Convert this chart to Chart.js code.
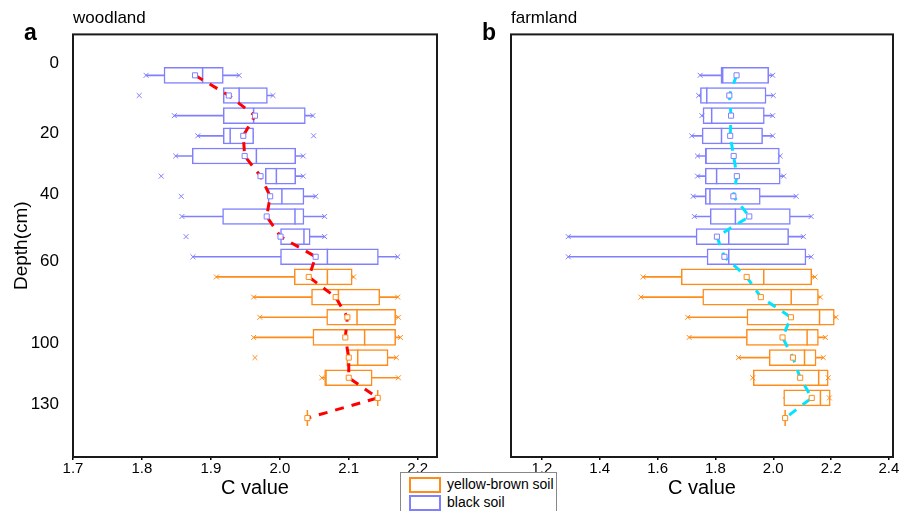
<!DOCTYPE html>
<html>
<head>
<meta charset="utf-8">
<script src="https://cdn.jsdelivr.net/npm/chart.js@4.4.1/dist/chart.umd.min.js"></script>
<style>
  body { margin: 0; background: #fff; font-family: "Liberation Sans", Arial, sans-serif; }
  #wrap { position: relative; width: 905px; height: 511px; overflow: hidden; }
  canvas { position: absolute; top: 0; }
  #ca { left: 0; }
  #cb { left: 460px; }
  .tag { position: absolute; font-weight: bold; font-size: 23px; line-height: 1; }
  #legend { position: absolute; left: 400px; top: 472px; width: 155px; height: 50px; border: 1px solid #888;
            background: #fff; font-size: 14px; z-index: 2; }
  #legend .txt { position: absolute; left: 46px; }
  #legend .key { position: absolute; left: 8px; width: 28px; height: 12px; }
</style>
</head>
<body>
<div id="wrap">
  <canvas id="ca" width="460" height="511"></canvas>
  <canvas id="cb" width="445" height="511"></canvas>
  <div class="tag" style="left:24px;top:21px">a</div>
  <div class="tag" style="left:482px;top:21px">b</div>
  <div id="legend">
    <div class="key" style="top:4px;border:2px solid #ff8c1a"></div><div class="txt" style="top:3px">yellow-brown soil</div>
    <div class="key" style="top:22px;border:2px solid #8080ff"></div><div class="txt" style="top:21px">black soil</div>
  </div>
</div>
<script>
// rows from top (0 cm) to bottom
const rows = [1, 2, 3, 4, 5, 6, 7, 8, 9, 10, 11, 12, 13, 14, 15, 16, 17, 18];
const soilType = ['black', 'black', 'black', 'black', 'black', 'black', 'black', 'black', 'black', 'black',
                  'yellow', 'yellow', 'yellow', 'yellow', 'yellow', 'yellow', 'yellow', 'yellow'];
const depthLabels = ['0', '20', '40', '60', '100', '130'];
const depthTickRows = [0.4, 3.9, 6.9, 10.2, 14.3, 17.3];
const xTicksA = [1.7, 1.8, 1.9, 2.0, 2.1, 2.2];
const xTicksB = [1.2, 1.4, 1.6, 1.8, 2.0, 2.2, 2.4];

// woodland
const woodMin  = [1.806, null, 1.847, 1.881, 1.849, null, null, 1.858, null, 1.874, 1.908, 1.962, 1.971, 1.962, null, 2.061, null, null];
const woodQ1   = [1.832, 1.918, 1.918, 1.918, 1.873, 1.979, 1.983, 1.917, 2.001, 2.001, 2.021, 2.046, 2.068, 2.048, 2.097, 2.065, 2.142, 2.040];
const woodMed  = [1.888, 1.941, 1.962, 1.928, 1.966, 1.995, 2.003, 2.022, 2.035, 2.069, 2.069, 2.085, 2.112, 2.123, 2.113, 2.067, 2.142, 2.040];
const woodQ3   = [1.918, 1.982, 2.037, 1.962, 2.023, 2.023, 2.035, 2.035, 2.044, 2.143, 2.105, 2.145, 2.168, 2.168, 2.157, 2.134, 2.142, 2.040];
const woodMax  = [1.941, 1.990, 2.048, null, 2.034, 2.034, 2.052, 2.065, 2.065, 2.171, 2.107, 2.171, 2.172, 2.175, 2.169, 2.172, null, null];
const woodMean = [1.877, 1.926, 1.964, 1.947, 1.949, 1.972, 1.986, 1.981, 2.001, 2.052, 2.042, 2.081, 2.098, 2.095, 2.100, 2.100, 2.142, 2.040];
const woodOut  = [[2, 1.796], [4, 2.049], [6, 1.828], [7, 1.857], [9, 1.864], [15, 1.964]];

// farmland
const farmMin  = [1.747, 1.742, 1.753, 1.718, 1.738, 1.738, 1.723, 1.727, 1.291, 1.291, 1.550, 1.542, 1.704, 1.709, 1.880, 1.929, null, null];
const farmQ1   = [1.819, 1.748, 1.757, 1.754, 1.765, 1.765, 1.765, 1.782, 1.733, 1.771, 1.682, 1.756, 1.909, 1.907, 1.986, 1.931, 2.036, 2.041];
const farmMed  = [1.825, 1.770, 1.787, 1.821, 1.767, 1.804, 1.781, 1.869, 1.846, 1.846, 1.967, 2.062, 2.160, 2.117, 2.108, 2.157, 2.163, 2.041];
const farmQ3   = [1.984, 1.975, 1.969, 1.963, 2.021, 2.024, 1.955, 2.059, 2.053, 2.113, 2.133, 2.156, 2.211, 2.156, 2.148, 2.190, 2.197, 2.041];
const farmMax  = [1.998, 2.000, 1.998, 1.998, 2.024, 2.036, 2.079, 2.131, 2.104, 2.131, 2.144, 2.163, 2.217, 2.180, 2.173, 2.190, 2.194, null];
const farmMean = [1.873, 1.848, 1.854, 1.851, 1.863, 1.874, 1.862, 1.917, 1.805, 1.831, 1.908, 1.957, 2.061, 2.032, 2.068, 2.093, 2.133, 2.041];
const farmOut  = [];

const BLUE = '#8080ff';
const ORANGE = '#ff8c1a';
const colors = soilType.map(s => s === 'black' ? BLUE : ORANGE);

Chart.defaults.font.family = '"Liberation Sans", Arial, sans-serif';
Chart.defaults.color = '#000';

const frame = {
  id: 'frame',
  afterDraw(chart) {
    const a = chart.chartArea, ctx = chart.ctx;
    ctx.save();
    ctx.strokeStyle = '#1a1a1a';
    ctx.lineWidth = 2;
    ctx.strokeRect(a.left, a.top, a.right - a.left, a.bottom - a.top);
    ctx.restore();
  }
};

function boxSets(lo, q1, med, q3, hi, mean, out, lineColor) {
  const ends = [];
  rows.forEach((r, i) => {
    if (lo[i] != null) ends.push({ x: lo[i], y: r, c: colors[i] });
    if (hi[i] != null) ends.push({ x: hi[i], y: r, c: colors[i] });
  });
  return [
    { type: 'scatter', data: mean.map((v, i) => ({ x: v, y: rows[i] })),
      pointStyle: 'rect', pointRadius: 3.6, pointBackgroundColor: '#fff', pointBorderColor: colors,
      pointBorderWidth: 1, order: 0 },
    { type: 'line', data: mean.map((v, i) => ({ x: v, y: rows[i] })),
      borderColor: lineColor, borderWidth: 3, borderDash: [9, 8], pointRadius: 0, fill: false, order: 1 },
    { type: 'scatter', data: out.map(o => ({ x: o[1], y: o[0] })),
      pointStyle: 'crossRot', pointRadius: 3.5, pointBorderColor: out.map(o => colors[o[0] - 1]),
      pointBorderWidth: 1, order: 2 },
    { type: 'scatter', data: ends,
      pointStyle: 'crossRot', pointRadius: 3.5, pointBorderColor: ends.map(e => e.c),
      pointBorderWidth: 1, order: 3 },
    { type: 'scatter', data: med.map((v, i) => ({ x: v, y: rows[i] })),
      pointStyle: 'line', pointRotation: 90, pointRadius: 8, pointBorderColor: colors,
      pointBorderWidth: 1.5, order: 4 },
    { type: 'bar', data: rows.map((r, i) => ({ x: [q1[i], q3[i]], y: r })),
      backgroundColor: '#fff', borderColor: colors, borderWidth: 1.5, borderSkipped: false,
      barThickness: 16, grouped: false, order: 5 },
    { type: 'bar', data: rows.map((r, i) => ({ x: [lo[i] ?? q1[i], hi[i] ?? q3[i]], y: r })),
      backgroundColor: colors, borderWidth: 0, barThickness: 1, grouped: false, order: 6 }
  ];
}

function makeChart(id, cfg) {
  return new Chart(document.getElementById(id), {
    type: 'bar',
    data: { datasets: cfg.datasets },
    options: {
      responsive: false,
      animation: false,
      indexAxis: 'y',
      layout: { padding: { left: 0, right: cfg.padRight, top: 0, bottom: 0 } },
      plugins: {
        legend: { display: false },
        tooltip: { enabled: false },
        title: { display: true, text: cfg.title, align: 'start', fullSize: false,
                 font: { size: 17, weight: 'normal' }, color: '#000', padding: { top: 8, bottom: 6 } }
      },
      scales: {
        x: {
          type: 'linear', min: cfg.xMin, max: cfg.xMax, beginAtZero: false, offset: false,
          afterBuildTicks: s => { s.ticks = cfg.xTicks.map(v => ({ value: v })); },
          afterFit: s => { s.height = 54; },
          ticks: { autoSkip: false, maxRotation: 0, padding: 0, font: { size: 15 }, color: '#000',
                   callback: v => Number(v).toFixed(1) },
          grid: { drawOnChartArea: false, drawTicks: true, tickLength: 3, color: '#000', lineWidth: 1.5 },
          border: { display: false },
          title: { display: true, text: 'C value', font: { size: 20 }, color: '#000', padding: { top: 0, bottom: 11 } }
        },
        y: {
          type: 'linear', reverse: true, min: -1.03, max: 19.93, offset: false, beginAtZero: false,
          afterBuildTicks: s => { s.ticks = depthTickRows.map(v => ({ value: v })); },
          afterFit: s => { s.width = cfg.yWidth; },
          ticks: { display: cfg.yLabels, autoSkip: false, padding: 6, font: { size: 17 }, color: '#000',
                   callback: (v, i) => depthLabels[i] },
          grid: { display: false },
          border: { display: false },
          title: { display: cfg.yLabels, text: 'Depth(cm)', font: { size: 19 }, color: '#000',
                   padding: { top: 10, bottom: 0 } }
        }
      }
    },
    plugins: [frame]
  });
}

makeChart('ca', {
  title: 'woodland', padRight: 23, yWidth: 73, yLabels: true,
  xMin: 1.7, xMax: 2.228, xTicks: xTicksA,
  datasets: boxSets(woodMin, woodQ1, woodMed, woodQ3, woodMax, woodMean, woodOut, '#ff0000')
});

makeChart('cb', {
  title: 'farmland', padRight: 12, yWidth: 51, yLabels: false,
  xMin: 1.093, xMax: 2.414, xTicks: xTicksB,
  datasets: boxSets(farmMin, farmQ1, farmMed, farmQ3, farmMax, farmMean, farmOut, '#00e5ff')
});
</script>
</body>
</html>
